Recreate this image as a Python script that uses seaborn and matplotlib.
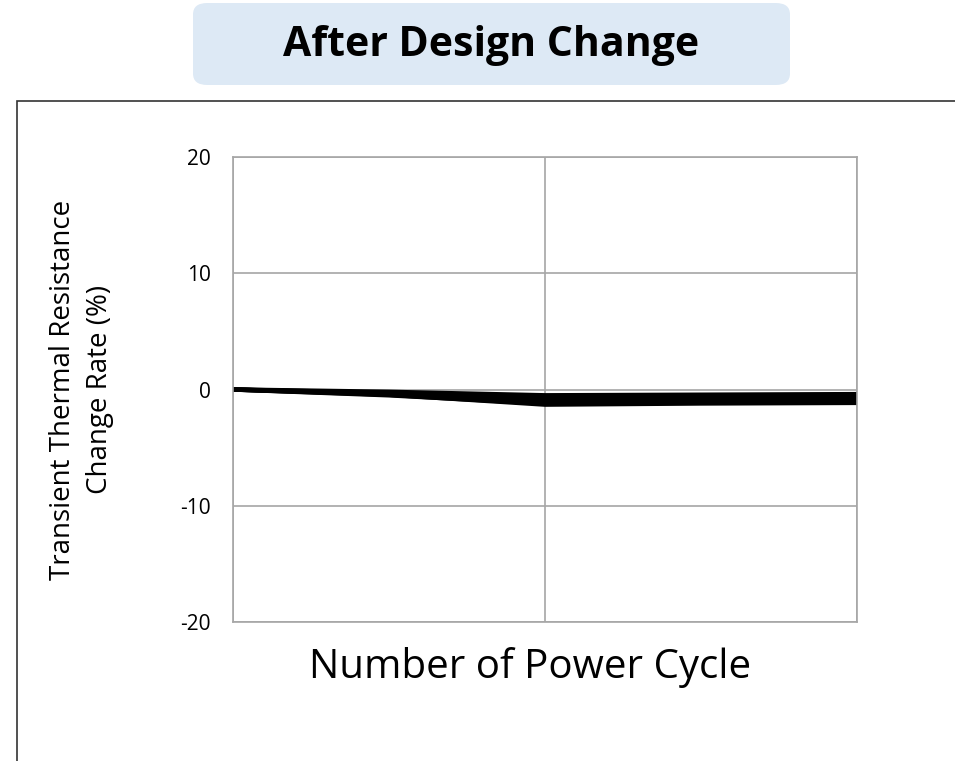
import pandas as pd
import seaborn as sns
import matplotlib.pyplot as plt
from matplotlib.patches import FancyBboxPatch, Rectangle

# data (x positions are cycle steps, no labels shown)
cycles = [0, 0.5, 1, 1.5, 2]
s1 = [0, -0.2, -0.5, -0.45, -0.4]
s2 = [0, -0.3, -0.8, -0.7, -0.6]
s3 = [0, -0.4, -1.0, -0.95, -0.9]
s4 = [0, -0.5, -1.2, -1.1, -1.0]
s5 = [0, -0.45, -1.3, -1.2, -1.15]
yticks = [-20, -10, 0, 10, 20]

rows = []
for name, vals in zip(['s1', 's2', 's3', 's4', 's5'], [s1, s2, s3, s4, s5]):
    for c, v in zip(cycles, vals):
        rows.append({'cycle': c, 'rate': v, 'sample': name})
df = pd.DataFrame(rows)

sns.set_style('white')
plt.rcParams['font.family'] = ['Open Sans', 'DejaVu Sans']
plt.rcParams['text.color'] = 'black'
plt.rcParams['ytick.labelcolor'] = 'black'
plt.rcParams['axes.labelcolor'] = 'black'

W, H = 955, 761
fig = plt.figure(figsize=(W / 100, H / 100), dpi=100)

# outer frame
fig.patches.append(Rectangle((17 / W, -0.01), 1.0, (H - 101) / H + 0.01,
                             transform=fig.transFigure, fill=False,
                             edgecolor='#333333', linewidth=1.2))
# title box
fig.patches.append(FancyBboxPatch((193 / W, 1 - 85 / H), 597 / W, 82 / H,
                                  boxstyle='round,pad=0,rounding_size=0.015',
                                  transform=fig.transFigure,
                                  facecolor='#dde9f5', edgecolor='none'))
fig.text(491 / W, 1 - 46 / H, 'After Design Change', ha='center', va='center',
         fontsize=29.5, fontweight='bold')

ax = fig.add_axes([233 / W, 1 - 622 / H, 624 / W, 465 / H])
sns.lineplot(data=df, x='cycle', y='rate', hue='sample',
             palette=['black'] * 5, linewidth=3.2, legend=False, ax=ax)

ax.set_xlim(0, 2)
ax.set_ylim(-20, 20)
ax.set_xticks([0, 1, 2])
ax.set_xticklabels([])
ax.set_yticks(yticks)
ax.set_yticklabels([str(t) for t in yticks], fontsize=15)
ax.tick_params(axis='y', length=8, color='#999999', pad=8)
ax.tick_params(axis='x', length=0)
ax.grid(True, color='#a6a6a6', linewidth=1.2)
ax.set_axisbelow(True)
for sp in ax.spines.values():
    sp.set_color('#a6a6a6')
    sp.set_linewidth(1.2)
ax.set_xlabel('')
ax.set_ylabel('Transient Thermal Resistance\nChange Rate (%)', fontsize=20,
              linespacing=1.45)
ax.yaxis.set_label_coords(-(233 - 114) / 624, 0.5)

fig.text(530 / W, 1 - 668 / H, 'Number of Power Cycle', ha='center',
         va='center', fontsize=29)

plt.savefig('out.png', dpi=100)
